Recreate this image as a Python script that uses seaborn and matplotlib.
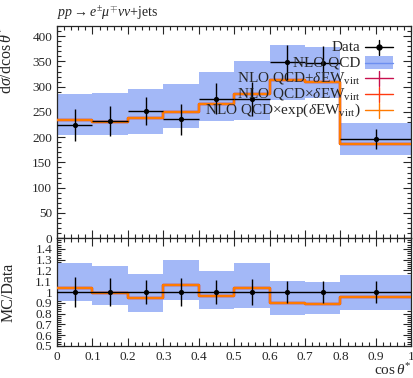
import numpy as np
import pandas as pd
import matplotlib
matplotlib.use("Agg")
import matplotlib.pyplot as plt
from matplotlib.ticker import MultipleLocator, FuncFormatter
import seaborn as sns

# ---------------- data ----------------
bin_edges = [0.0, 0.1, 0.2, 0.3, 0.4, 0.5, 0.6, 0.7, 0.8, 1.0]
data_vals = [224, 232, 252, 235, 276, 275, 348, 347, 197]
data_errs = [31, 30, 27, 30, 31, 34, 35, 34, 20]
nlo_qcd = [233, 230, 238, 250, 266, 285, 313, 309, 187]
nlo_up = [285, 287, 295, 305, 329, 350, 383, 379, 228]
nlo_dn = [205, 204, 206, 218, 232, 233, 274, 277, 165]
ew_add = [233, 230, 238, 250, 266, 285, 313, 309, 187]
ew_mult = [233, 230, 238, 250, 266, 285, 313, 309, 187]
ew_exp = [233, 230, 238, 250, 266, 285, 313, 309, 187]

labels = ["Data", "NLO QCD", r"NLO QCD$+\delta$EW$_{\rm virt}$",
          r"NLO QCD$\times\delta$EW$_{\rm virt}$",
          r"NLO QCD$\times$exp($\delta$EW$_{\rm virt}$)"]

# ---------------- style ----------------
sns.set_theme(style="ticks")
plt.rcParams["font.family"] = ["Liberation Serif", "DejaVu Serif"]
plt.rcParams["mathtext.fontset"] = "custom"
plt.rcParams["mathtext.rm"] = "Liberation Serif"
plt.rcParams["mathtext.it"] = "Liberation Serif:italic"
plt.rcParams["mathtext.bf"] = "Liberation Serif:bold"

band_col = "#a3b8f7"
blue_line = "#6d8ff0"
crimson = "#c8104e"
red = "#ff3a10"
orange = "#ff7a00"

edges = np.array(bin_edges)
centers = 0.5 * (edges[:-1] + edges[1:])
halfw = 0.5 * (edges[1:] - edges[:-1])
dv = np.array(data_vals, float)
de = np.array(data_errs, float)

def stepify(vals):
    return np.append(np.asarray(vals, float), vals[-1])

fig = plt.figure(figsize=(4.13, 3.78), dpi=100)
ax = fig.add_axes([0.138, 0.370, 0.858, 0.561])
axr = fig.add_axes([0.138, 0.085, 0.858, 0.285], sharex=ax)

# ---------------- main panel ----------------
ax.fill_between(edges, stepify(nlo_dn), stepify(nlo_up), step="post",
                color=band_col, lw=0, zorder=1)
for vals, col in [(nlo_qcd, blue_line), (ew_add, crimson), (ew_mult, red), (ew_exp, orange)]:
    df = pd.DataFrame({"x": edges, "y": stepify(vals)})
    sns.lineplot(data=df, x="x", y="y", ax=ax, color=col, lw=1.6,
                 drawstyle="steps-post", estimator=None, sort=False, zorder=3)
ax.errorbar(centers, dv, yerr=de, xerr=halfw, fmt="none", ecolor="black",
            elinewidth=1.0, zorder=4)
sns.scatterplot(x=centers, y=dv, ax=ax, color="black", s=14, edgecolor="black",
                linewidth=0, zorder=5)

ax.set_xlim(0, 1)
ax.set_ylim(0, 420)
ax.set_xlabel("")
ax.set_ylabel(r"d$\sigma$/dcos$\,\theta^{*}$", fontsize=11.5, loc="top")
ax.yaxis.set_major_locator(MultipleLocator(50))
ax.yaxis.set_minor_locator(MultipleLocator(10))
ax.xaxis.set_major_locator(MultipleLocator(0.1))
ax.xaxis.set_minor_locator(MultipleLocator(0.02))
ax.tick_params(axis="x", labelbottom=False)

ax.text(0.0, 1.063, r"$pp \rightarrow e^{\pm}\mu^{\mp}\nu\nu$+jets",
        transform=ax.transAxes, fontsize=10, ha="left", va="center")

# legend (manual, right-aligned text)
def ax_coords(px, py):
    return (px - 57) / 355.0, (238 - py) / 212.0

rows_py = [47, 62.5, 78, 94, 110]
tx, _ = ax_coords(361, 0)
hx0, _ = ax_coords(366, 0)
hx1, _ = ax_coords(394, 0)
hxm = 0.5 * (hx0 + hx1)
for i, (lab, py) in enumerate(zip(labels, rows_py)):
    _, ty = ax_coords(0, py)
    ax.text(tx, ty, lab, transform=ax.transAxes, ha="right", va="center",
            fontsize=11, zorder=6)
    if i == 0:
        ax.plot([hx0, hx1], [ty, ty], color="black", lw=1.0, transform=ax.transAxes, clip_on=False, zorder=6)
        ax.plot([hxm, hxm], [ty - 0.035, ty + 0.035], color="black", lw=1.0, transform=ax.transAxes, clip_on=False, zorder=6)
        ax.plot([hxm], [ty], "o", color="black", ms=3.5, transform=ax.transAxes, clip_on=False, zorder=6)
    elif i == 1:
        ax.fill_between([hx0, hx1], [ty - 0.03] * 2, [ty + 0.03] * 2, color=band_col,
                        transform=ax.transAxes, lw=0, zorder=6)
        ax.plot([hx0, hx1], [ty, ty], color=blue_line, lw=1.0, transform=ax.transAxes, clip_on=False, zorder=6)
    else:
        col = [crimson, red, orange][i - 2]
        ax.plot([hx0, hx1], [ty, ty], color=col, lw=1.0, transform=ax.transAxes, clip_on=False, zorder=6)
        ax.plot([hxm, hxm], [ty - 0.035, ty + 0.035], color=col, lw=1.0, transform=ax.transAxes, clip_on=False, zorder=6)

# ---------------- ratio panel ----------------
r_up = np.array(nlo_up) / dv
r_dn = np.array(nlo_dn) / dv
axr.fill_between(edges, stepify(r_dn), stepify(r_up), step="post",
                 color=band_col, lw=0, zorder=1)
for vals, col in [(nlo_qcd, blue_line), (ew_add, crimson), (ew_mult, red), (ew_exp, orange)]:
    df = pd.DataFrame({"x": edges, "y": stepify(np.array(vals) / dv)})
    sns.lineplot(data=df, x="x", y="y", ax=axr, color=col, lw=1.6,
                 drawstyle="steps-post", estimator=None, sort=False, zorder=3)
axr.axhline(1.0, color="black", lw=1.0, zorder=4)
axr.errorbar(centers, np.ones_like(dv), yerr=de / dv, fmt="none", ecolor="black",
             elinewidth=1.0, zorder=4)
sns.scatterplot(x=centers, y=np.ones_like(dv), ax=axr, color="black", s=14,
                linewidth=0, zorder=5)

axr.set_ylim(0.5, 1.5)
axr.set_xlim(0, 1)
axr.set_ylabel("MC/Data", fontsize=11.5)
axr.set_xlabel(r"cos$\,\theta^{*}$", fontsize=11, loc="right")
axr.yaxis.set_major_locator(MultipleLocator(0.1))
axr.yaxis.set_minor_locator(MultipleLocator(0.02))
axr.xaxis.set_major_locator(MultipleLocator(0.1))
axr.xaxis.set_minor_locator(MultipleLocator(0.02))

def fmt(v, pos):
    if abs(v - round(v)) < 1e-9:
        return "%d" % round(v)
    return ("%.1f" % v)
axr.yaxis.set_major_formatter(FuncFormatter(lambda v, p: "" if v > 1.45 else fmt(v, p)))
axr.xaxis.set_major_formatter(FuncFormatter(fmt))

for a in (ax, axr):
    a.tick_params(which="both", direction="in", top=True, right=True, labelsize=9.5, width=0.8)
    a.tick_params(which="major", length=6)
    a.tick_params(which="minor", length=3)
    for s in a.spines.values():
        s.set_linewidth(0.9)

ax.yaxis.set_label_coords(-0.115, 1.0)
axr.yaxis.set_label_coords(-0.115, 0.5)
axr.xaxis.set_label_coords(1.0, -0.22)
axr.xaxis.label.set_va("center")

fig.savefig("out.png", dpi=100)
